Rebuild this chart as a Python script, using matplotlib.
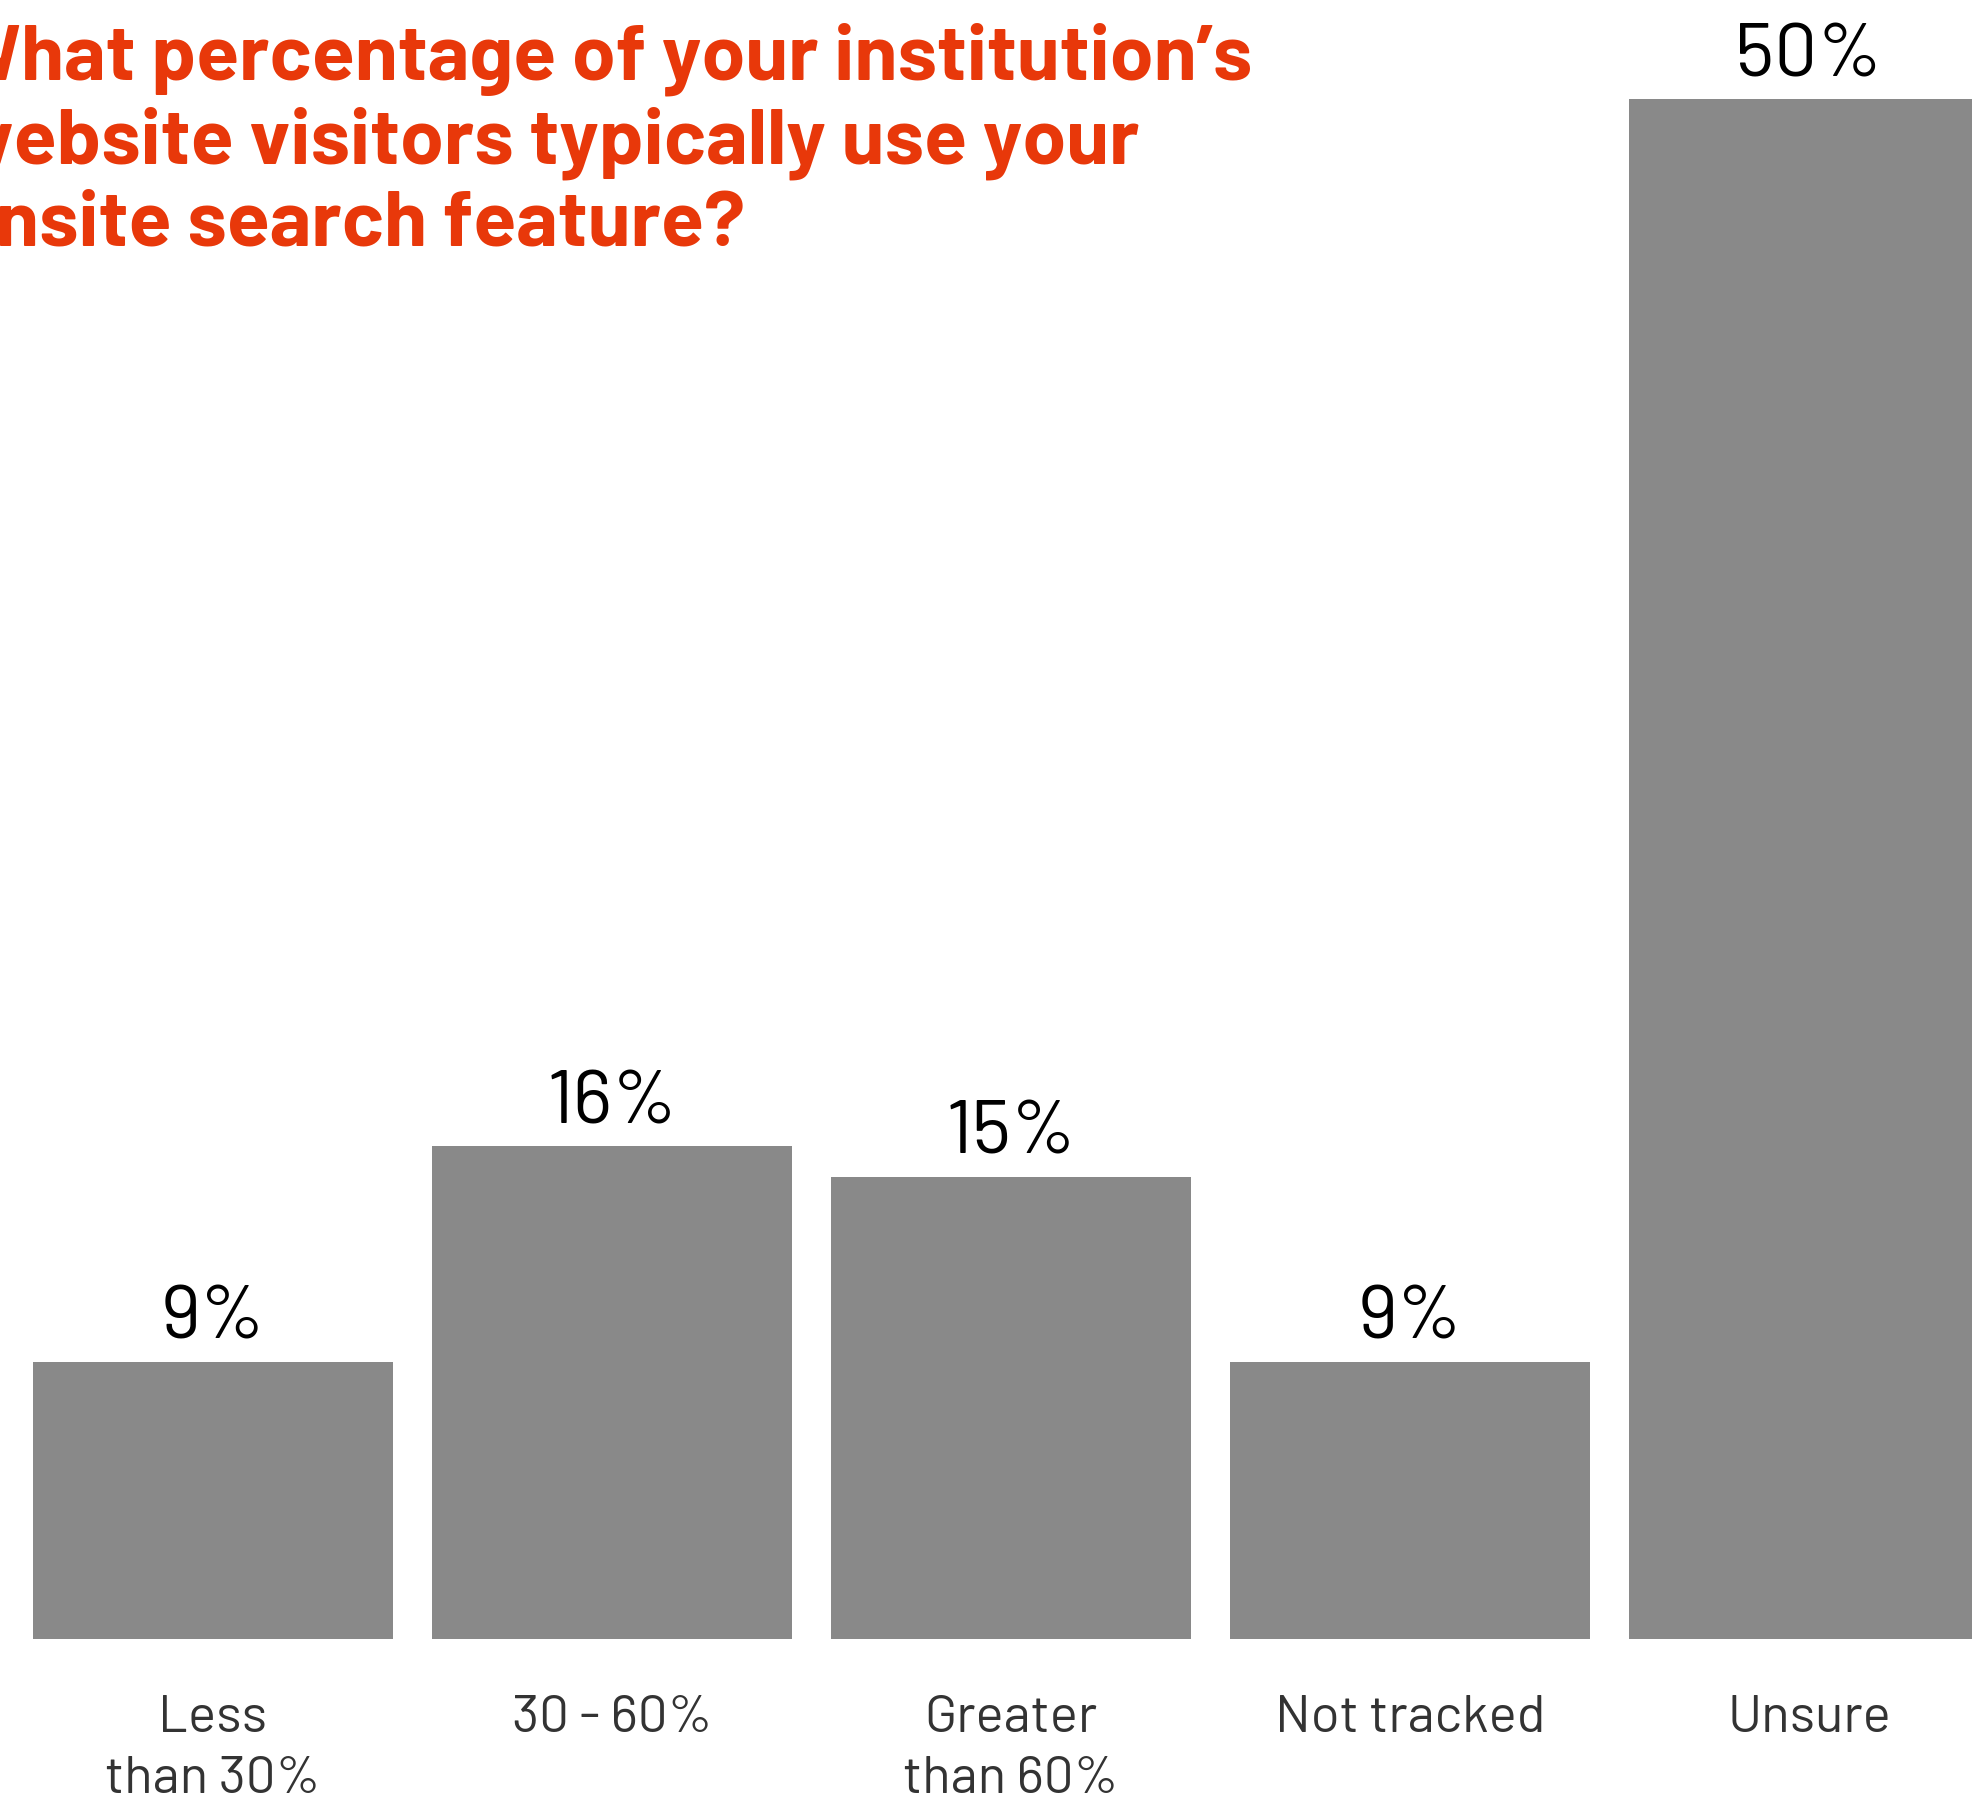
import matplotlib
matplotlib.use("Agg")
import matplotlib.pyplot as plt
import logging
logging.getLogger("matplotlib.font_manager").setLevel(logging.ERROR)

categories = ["Less\nthan 30%", "30 - 60%", "Greater\nthan 60%", "Not tracked", "Unsure"]
values = [9, 16, 15, 9, 50]
value_labels = ["9%", "16%", "15%", "9%", "50%"]
title_lines = ["What percentage of your institution\u2019s",
               "website visitors typically use your",
               "onsite search feature?"]

W, H = 1972, 1803
DPI = 100
fig = plt.figure(figsize=(W / DPI, H / DPI), dpi=DPI)
fig.patch.set_facecolor("white")

bottom_px = H - 1639
ax = fig.add_axes([0, bottom_px / H, 1, 1 - bottom_px / H])
px_per_unit = 399.0
left_center = 213.0
ax.set_xlim(-left_center / px_per_unit, (W - left_center) / px_per_unit)
ax.set_ylim(0, (H - bottom_px) / 30.8)

x = list(range(len(categories)))
ax.bar(x, values, width=0.9, color="#898989", linewidth=0)

VAL_FONT = ["Barlow", "Roboto"]
LAB_FONT = ["Barlow", "Roboto"]
TITLE_FONT = ["Barlow", "Roboto"]

for xi, v, lab in zip(x, values, value_labels):
    ax.annotate(lab, (xi, v), xytext=(0, 23 * 72 / DPI), textcoords="offset points",
                ha="center", va="baseline", fontsize=55, family=VAL_FONT,
                fontweight="normal", color="#000000")

for s in ax.spines.values():
    s.set_visible(False)
ax.set_yticks([])
ax.set_xticks(x)
ax.set_xticklabels(categories, fontsize=38, family=LAB_FONT, fontweight="normal",
                   color="#333333", linespacing=1.4)
ax.tick_params(axis="x", length=0, pad=40)

baselines = [80, 163, 246]
for line, b in zip(title_lines, baselines):
    fig.text(-48 / W, 1 - b / H, line, ha="left", va="baseline", fontsize=56.7,
             family=TITLE_FONT, fontweight="bold", color="#E8380A")

fig.savefig("out.png", dpi=DPI)
